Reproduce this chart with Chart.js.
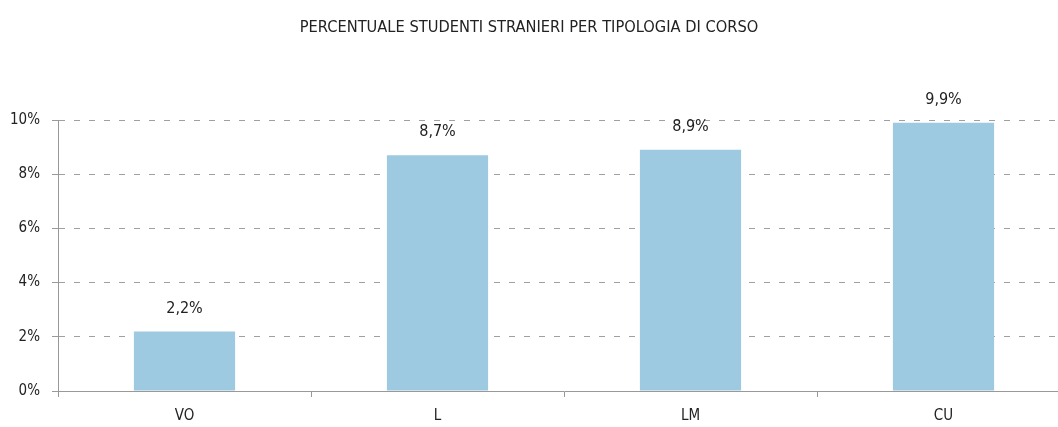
<!DOCTYPE html>
<html>
<head>
<meta charset="utf-8">
<script src="https://cdn.jsdelivr.net/npm/chart.js@4"></script>
<style>
  html, body { margin: 0; padding: 0; background: #fff; overflow: hidden; }
  #wrap { position: relative; width: 1075px; height: 427px; }
  #title {
    position: absolute; left: 0; top: 17px; width: 1058px; text-align: center;
    font-family: "Liberation Sans Narrow", "DejaVu Sans Condensed", "Roboto", sans-serif;
    font-size: 16.3px; color: #222;
  }
</style>
</head>
<body>
<div id="wrap">
  <div id="title">PERCENTUALE STUDENTI STRANIERI PER TIPOLOGIA DI CORSO</div>
  <canvas id="myChart" width="1075" height="427"></canvas>
</div>
<script>
let courseTypes = ['VO', 'L', 'LM', 'CU'];
let foreignPercent = [2.2, 8.7, 8.9, 9.9];
let yTicks = [0, 2, 4, 6, 8, 10];

const FONT = '"Liberation Sans Narrow", "DejaVu Sans Condensed", "Roboto", sans-serif';
const fmt = v => v.toFixed(1).replace('.', ',') + '%';

// etichette sopra le barre
const barLabels = {
    id: 'barLabels',
    afterDatasetsDraw(chart) {
        const ctx = chart.ctx;
        const meta = chart.getDatasetMeta(0);
        ctx.save();
        ctx.font = '16px ' + FONT;
        ctx.fillStyle = '#222';
        ctx.textAlign = 'center';
        ctx.textBaseline = 'bottom';
        meta.data.forEach((bar, i) => {
            ctx.fillText(fmt(foreignPercent[i]), bar.x, bar.y - 15);
        });
        ctx.restore();
    }
};

let chartElement = document.getElementById('myChart').getContext('2d');

let myChart = new Chart(chartElement, {
    type: 'bar',
    data: {
        labels: courseTypes,
        datasets: [{
            data: foreignPercent,
            backgroundColor: '#9ecae1',
            barPercentage: 0.4,
            categoryPercentage: 1
        }]
    },
    options: {
        responsive: false,
        animation: false,
        layout: { padding: { top: 120, right: 5, left: 0, bottom: 0 } },
        plugins: {
            legend: { display: false },
            tooltip: { enabled: false }
        },
        scales: {
            x: {
                afterFit: s => { s.height = 36; },
                grid: {
                    offset: true,
                    drawOnChartArea: false,
                    tickLength: 6,
                    color: '#999'
                },
                border: { color: '#999', width: 1 },
                ticks: {
                    color: '#222',
                    padding: 10,
                    font: { family: FONT, size: 15 }
                }
            },
            y: {
                min: 0,
                max: 10,
                afterFit: s => { s.width = 58; },
                afterBuildTicks: s => { s.ticks = yTicks.map(v => ({ value: v })); },
                grid: {
                    // la linea dello 0 la disegna l'asse x
                    color: c => (c.tick && c.tick.value === 0) ? 'rgba(0,0,0,0)' : '#a0a0a0',
                    lineWidth: 1,
                    tickLength: 6,
                    tickBorderDash: [],
                    tickColor: '#999'
                },
                border: { color: '#999', width: 1, dash: [6, 9] },
                ticks: {
                    color: '#222',
                    padding: 12,
                    font: { family: FONT, size: 15 },
                    callback: v => v + '%'
                }
            }
        }
    },
    plugins: [barLabels]
});
</script>
</body>
</html>
